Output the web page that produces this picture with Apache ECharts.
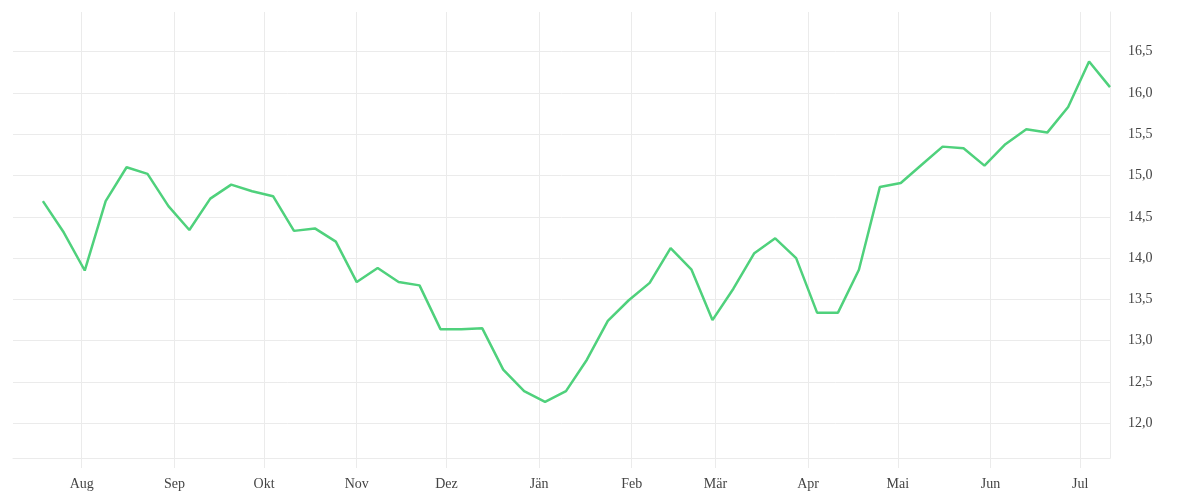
<!DOCTYPE html>
<html><head><meta charset="utf-8">
<script src="https://cdn.jsdelivr.net/npm/echarts@6/dist/echarts.min.js"></script>
<style>html,body{margin:0;padding:0;background:#fff}#c{width:1200px;height:500px}</style>
</head><body><div id="c"></div>
<script>
const dates = [
 '2022-07-19','2022-07-26','2022-08-02','2022-08-09','2022-08-16','2022-08-23','2022-08-30',
 '2022-09-06','2022-09-13','2022-09-20','2022-09-27','2022-10-04','2022-10-11','2022-10-18',
 '2022-10-25','2022-11-01','2022-11-08','2022-11-15','2022-11-22','2022-11-29','2022-12-06',
 '2022-12-13','2022-12-20','2022-12-27','2023-01-03','2023-01-10','2023-01-17','2023-01-24',
 '2023-01-31','2023-02-07','2023-02-14','2023-02-21','2023-02-28','2023-03-07','2023-03-14',
 '2023-03-21','2023-03-28','2023-04-04','2023-04-11','2023-04-18','2023-04-25','2023-05-02',
 '2023-05-09','2023-05-16','2023-05-23','2023-05-30','2023-06-06','2023-06-13','2023-06-20',
 '2023-06-27','2023-07-04','2023-07-11'
];
const values = [
 14.69,14.31,13.85,14.69,15.10,15.02,14.63,
 14.34,14.72,14.89,14.81,14.75,14.33,14.36,
 14.20,13.71,13.88,13.71,13.67,13.14,13.14,
 13.15,12.65,12.39,12.26,12.39,12.77,13.24,
 13.49,13.70,14.12,13.86,13.25,13.63,14.06,
 14.24,14.00,13.34,13.34,13.86,14.86,14.91,
 15.13,15.35,15.33,15.12,15.38,15.56,15.52,
 15.83,16.38,16.07
];
const monthStarts = ['2022-08-01','2022-09-01','2022-10-01','2022-11-01','2022-12-01','2023-01-01',
 '2023-02-01','2023-03-01','2023-04-01','2023-05-01','2023-06-01','2023-07-01'];
const monthLabels = ['Aug','Sep','Okt','Nov','Dez','Jän','Feb','Mär','Apr','Mai','Jun','Jul'];
const yTicks = [12.0,12.5,13.0,13.5,14.0,14.5,15.0,15.5,16.0,16.5];

const ts = s => new Date(s + 'T00:00:00Z').getTime();
const monthTs = monthStarts.map(ts);
const labelMap = {};
monthTs.forEach((t,i)=>{labelMap[t]=monthLabels[i];});

const chart = echarts.init(document.getElementById('c'));
const font = '"Liberation Serif", serif';
chart.setOption({
  animation:false,
  grid:{left:13,right:90,top:12,bottom:42,containLabel:false},
  xAxis:{
    type:'value',
    min:ts('2022-07-09'), max:ts('2023-07-11'),
    axisLine:{show:true,lineStyle:{color:'#ebebeb',width:1}},
    axisTick:{show:true,length:10,lineStyle:{color:'#ebebeb'},customValues:monthTs},
    axisLabel:{customValues:monthTs,formatter:v=>labelMap[v]||'',color:'#444',fontFamily:font,fontSize:14,margin:19},
    splitLine:{show:true,lineStyle:{color:'#ebebeb',width:1}}
  },
  yAxis:{
    type:'value',position:'right',
    min:11.58,max:16.98,
    axisLine:{show:true,lineStyle:{color:'#ebebeb',width:1}},
    axisTick:{show:false,customValues:yTicks},
    axisLabel:{customValues:yTicks,formatter:v=>v.toFixed(1).replace('.',','),color:'#444',fontFamily:font,fontSize:14,margin:18,padding:[8,0,0,0]},
    splitLine:{show:true,lineStyle:{color:'#ebebeb',width:1}}
  },
  series:[{
    type:'line',
    data:dates.map((d,i)=>[ts(d),values[i]]),
    showSymbol:false,
    lineStyle:{color:'#4fd17c',width:2.5},
    itemStyle:{color:'#4fd17c'}
  }]
});
</script></body></html>
